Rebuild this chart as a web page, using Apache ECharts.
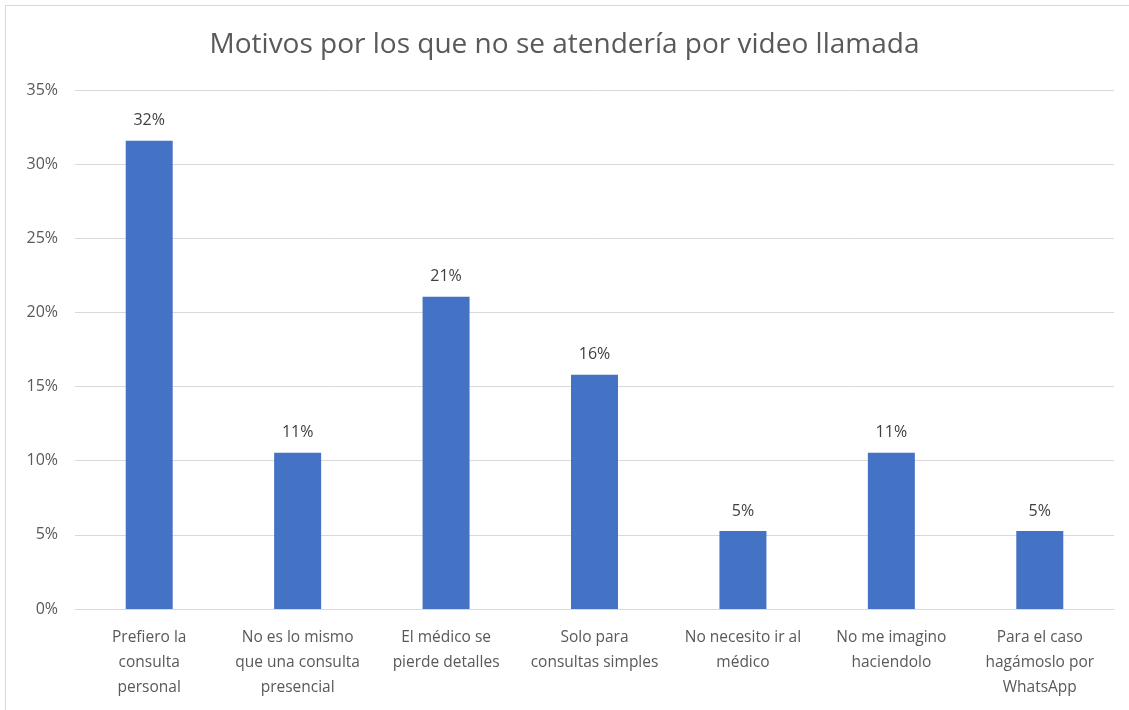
<!DOCTYPE html>
<html>
<head>
<meta charset="utf-8">
<script src="https://cdn.jsdelivr.net/npm/echarts@6/dist/echarts.min.js"></script>
<style>
  html, body { margin: 0; padding: 0; background: #fff; }
  #frame { position: absolute; left: 5px; top: 5px; width: 1130px; height: 710px; border: 1px solid #d9d9d9; box-sizing: border-box; }
  #chart { position: absolute; left: 0; top: 0; width: 1129px; height: 710px; }
</style>
</head>
<body>
<div id="frame"></div>
<div id="chart"></div>
<script>
// Reasons for not using a video consultation (share of respondents)
const chartTitle = 'Motivos por los que no se atendería por video llamada';
const categories = [
  'Prefiero la\nconsulta\npersonal',
  'No es lo mismo\nque una consulta\npresencial',
  'El médico se\npierde detalles',
  'Solo para\nconsultas simples',
  'No necesito ir al\nmédico',
  'No me imagino\nhaciendolo',
  'Para el caso\nhagámoslo por\nWhatsApp'
];
const shares = [31.58, 10.53, 21.05, 15.79, 5.26, 10.53, 5.26];
const axisMax = 35;
const axisStep = 5;

const font = '"Open Sans", "Liberation Sans", sans-serif';
const chart = echarts.init(document.getElementById('chart'), null, { renderer: 'canvas' });
chart.setOption({
  animation: false,
  title: {
    text: chartTitle,
    left: 'center',
    top: 26,
    textStyle: { fontFamily: font, fontSize: 28, fontWeight: 'normal', color: '#595959' }
  },
  grid: { left: 75, right: 15, top: 90, bottom: 101, containLabel: false },
  xAxis: {
    type: 'category',
    data: categories,
    axisLine: { lineStyle: { color: '#d9d9d9', width: 1 } },
    axisTick: { show: false },
    axisLabel: {
      interval: 0,
      margin: 16,
      fontFamily: font,
      fontSize: 15.5,
      lineHeight: 25,
      color: '#595959'
    }
  },
  yAxis: {
    type: 'value',
    min: 0,
    max: axisMax,
    interval: axisStep,
    axisLine: { show: false },
    axisTick: { show: false },
    splitLine: { lineStyle: { color: '#d9d9d9', width: 1 } },
    axisLabel: {
      formatter: v => v + '%',
      margin: 17,
      fontFamily: font,
      fontSize: 16,
      color: '#595959'
    }
  },
  series: [{
    type: 'bar',
    data: shares,
    barWidth: 47,
    itemStyle: { color: '#4472c4' },
    label: {
      show: true,
      position: 'top',
      distance: 12,
      formatter: p => Math.round(p.value) + '%',
      fontFamily: font,
      fontSize: 16,
      color: '#404040'
    }
  }]
});
</script>
</body>
</html>
